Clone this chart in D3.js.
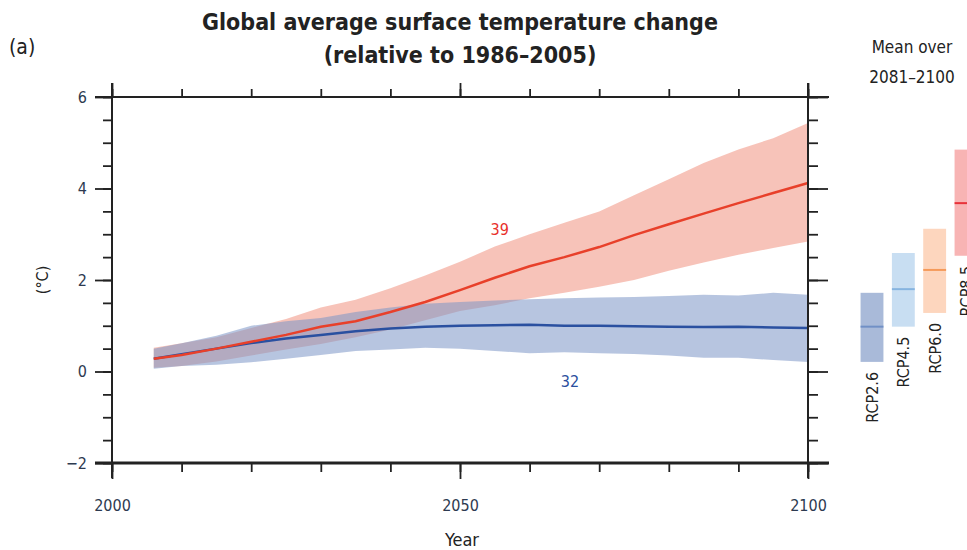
<!DOCTYPE html>
<html><head><meta charset="utf-8">
<script src="https://cdn.jsdelivr.net/npm/d3@7"></script>
<style>
body{margin:0;background:#fff;}
svg text{font-family:"Liberation Sans Narrow","DejaVu Sans Condensed","Arial Narrow",sans-serif;}
</style></head>
<body><svg id="c" width="967" height="550"></svg>
<script>
const years = [2006,2010,2015,2020,2025,2030,2035,2040,2045,2050,2055,2060,2065,2070,2075,2080,2085,2090,2095,2100];
const rcp85Mean  = [0.28,0.36,0.50,0.65,0.80,0.98,1.10,1.30,1.52,1.78,2.05,2.30,2.50,2.72,2.98,3.22,3.45,3.68,3.90,4.12];
const rcp85Upper = [0.52,0.62,0.75,0.95,1.15,1.40,1.57,1.82,2.10,2.40,2.73,3.00,3.25,3.50,3.85,4.20,4.56,4.85,5.10,5.43];
const rcp85Lower = [0.08,0.12,0.22,0.35,0.48,0.60,0.75,0.92,1.12,1.32,1.45,1.60,1.72,1.85,2.00,2.20,2.38,2.55,2.70,2.84];
const rcp26Mean  = [0.28,0.38,0.50,0.62,0.72,0.80,0.88,0.94,0.98,1.00,1.01,1.02,1.00,1.00,0.99,0.98,0.97,0.98,0.96,0.95];
const rcp26Upper = [0.50,0.62,0.78,1.00,1.10,1.17,1.30,1.40,1.48,1.52,1.55,1.58,1.60,1.62,1.63,1.65,1.68,1.66,1.72,1.68];
const rcp26Lower = [0.06,0.12,0.15,0.20,0.28,0.36,0.45,0.48,0.52,0.50,0.45,0.40,0.42,0.40,0.38,0.35,0.30,0.30,0.25,0.21];
const modelCounts = ["39","32"];
const countPos = [[2055.7,3.1],[2065.8,-0.22]];
const xTicks = [2000,2050,2100];
const yTicks = [-2,0,2,4,6];
const scenarios = ["RCP2.6","RCP4.5","RCP6.0","RCP8.5"];
const scenMean = [0.98,1.80,2.22,3.68];
const scenLow  = [0.21,0.98,1.28,2.53];
const scenHigh = [1.72,2.59,3.12,4.85];
const scenFill = ["#a9bad9","#c8def2","#fdd6be","#f8b4b4"];
const scenLine = ["#7190c6","#86b4e0","#f59a5a","#e8323a"];

const svg = d3.select("#c");
const x = d3.scaleLinear().domain([2000,2100]).range([112,808]);
const y = d3.scaleLinear().domain([-2,6]).range([463,97]);
const axisCol = "#222";

// bands
const band = (up, lo) => d3.area().x((d,i)=>x(years[i])).y0((d,i)=>y(lo[i])).y1((d,i)=>y(up[i]))(years);
const line = (m) => d3.line().x((d,i)=>x(years[i])).y((d,i)=>y(m[i]))(years);
svg.append("path").attr("d", band(rcp85Upper, rcp85Lower)).attr("fill","#f4a99b").attr("fill-opacity",0.7);
svg.append("path").attr("d", band(rcp26Upper, rcp26Lower)).attr("fill","#7b96c6").attr("fill-opacity",0.55);
svg.append("path").attr("d", line(rcp26Mean)).attr("fill","none").attr("stroke","#2a50a0").attr("stroke-width",2.5);
svg.append("path").attr("d", line(rcp85Mean)).attr("fill","none").attr("stroke","#e8402a").attr("stroke-width",2.5);

// counts
const cCol = ["#e8302a","#2a4f9e"];
modelCounts.forEach((t,i)=>{
  svg.append("text").attr("x",x(countPos[i][0])).attr("y",y(countPos[i][1]))
    .attr("text-anchor","middle").attr("dominant-baseline","central")
    .attr("font-size",16).attr("fill",cCol[i]).text(t);
});

// axes frame
svg.append("g").attr("transform","translate(112,0)")
  .call(d3.axisLeft(y).tickValues(d3.range(-2,6.01,0.5)).tickSize(9).tickFormat(""));
svg.append("g").attr("transform","translate(112,0)")
  .call(d3.axisLeft(y).tickValues(yTicks).tickSize(17).tickPadding(8).tickFormat(d=>d<0?"\u2212"+Math.abs(d):d));
svg.append("g").attr("transform","translate(808,0)")
  .call(d3.axisRight(y).tickValues(d3.range(-2,6.01,0.5)).tickSize(10).tickFormat(""));
svg.append("g").attr("transform","translate(808,0)")
  .call(d3.axisRight(y).tickValues(yTicks).tickSize(20).tickFormat(""));
svg.append("g").attr("transform","translate(0,463)")
  .call(d3.axisBottom(x).tickValues(d3.range(2000,2101,10)).tickSize(9).tickFormat(""));
svg.append("g").attr("transform","translate(0,463)")
  .call(d3.axisBottom(x).tickValues(xTicks).tickSize(16).tickPadding(21).tickFormat(d3.format("d")));
svg.append("g").attr("transform","translate(0,97)")
  .call(d3.axisTop(x).tickValues(d3.range(2000,2101,10)).tickSize(8).tickFormat(""));
svg.append("g").attr("transform","translate(0,97)")
  .call(d3.axisTop(x).tickValues(xTicks).tickSize(14).tickFormat(""));
svg.selectAll(".domain").remove();
svg.selectAll(".tick line").attr("stroke",axisCol).attr("stroke-width",1.8);
svg.selectAll(".tick text").attr("font-size",16).attr("fill","#2d3a50");
// frame lines
svg.append("line").attr("x1",112).attr("x2",112).attr("y1",83).attr("y2",478).attr("stroke",axisCol).attr("stroke-width",2);
svg.append("line").attr("x1",808).attr("x2",808).attr("y1",83).attr("y2",478).attr("stroke",axisCol).attr("stroke-width",2);
svg.append("line").attr("x1",95).attr("x2",829).attr("y1",97).attr("y2",97).attr("stroke",axisCol).attr("stroke-width",1.8);
svg.append("line").attr("x1",95).attr("x2",829).attr("y1",463).attr("y2",463).attr("stroke",axisCol).attr("stroke-width",3);

// titles
svg.append("text").attr("x",460).attr("y",30).attr("text-anchor","middle").attr("font-size",23).attr("font-weight","bold").attr("fill","#222").text("Global average surface temperature change");
svg.append("text").attr("x",460).attr("y",63).attr("text-anchor","middle").attr("font-size",23).attr("font-weight","bold").attr("fill","#222").text("(relative to 1986\u20132005)");
svg.append("text").attr("x",9).attr("y",54).attr("font-size",21).attr("fill","#222").text("(a)");
svg.append("text").attr("transform","translate(48,280) rotate(-90)").attr("text-anchor","middle").attr("font-size",16).attr("fill","#222").text("(\u00b0C)");
svg.append("text").attr("x",462).attr("y",546).attr("text-anchor","middle").attr("font-size",18).attr("fill","#222").text("Year");
svg.append("text").attr("x",912).attr("y",53).attr("text-anchor","middle").attr("font-size",17).attr("fill","#222").text("Mean over");
svg.append("text").attr("x",912).attr("y",83).attr("text-anchor","middle").attr("font-size",17).attr("fill","#222").text("2081\u20132100");

// right boxes
const xb = d3.scaleBand().domain(scenarios).range([859,979]).paddingInner(0.27).paddingOuter(0.05);
scenarios.forEach((s,i)=>{
  const bx = xb(s), bw = xb.bandwidth();
  svg.append("rect").attr("x",bx).attr("width",bw).attr("y",y(scenHigh[i])).attr("height",y(scenLow[i])-y(scenHigh[i])).attr("fill",scenFill[i]);
  svg.append("line").attr("x1",bx).attr("x2",bx+bw).attr("y1",y(scenMean[i])).attr("y2",y(scenMean[i])).attr("stroke",scenLine[i]).attr("stroke-width",2);
  svg.append("text").attr("transform",`translate(${bx+bw/2+6},${y(scenLow[i])+10}) rotate(-90)`)
    .attr("text-anchor","end").attr("font-size",16).attr("fill","#222").text(s);
});
</script></body></html>
